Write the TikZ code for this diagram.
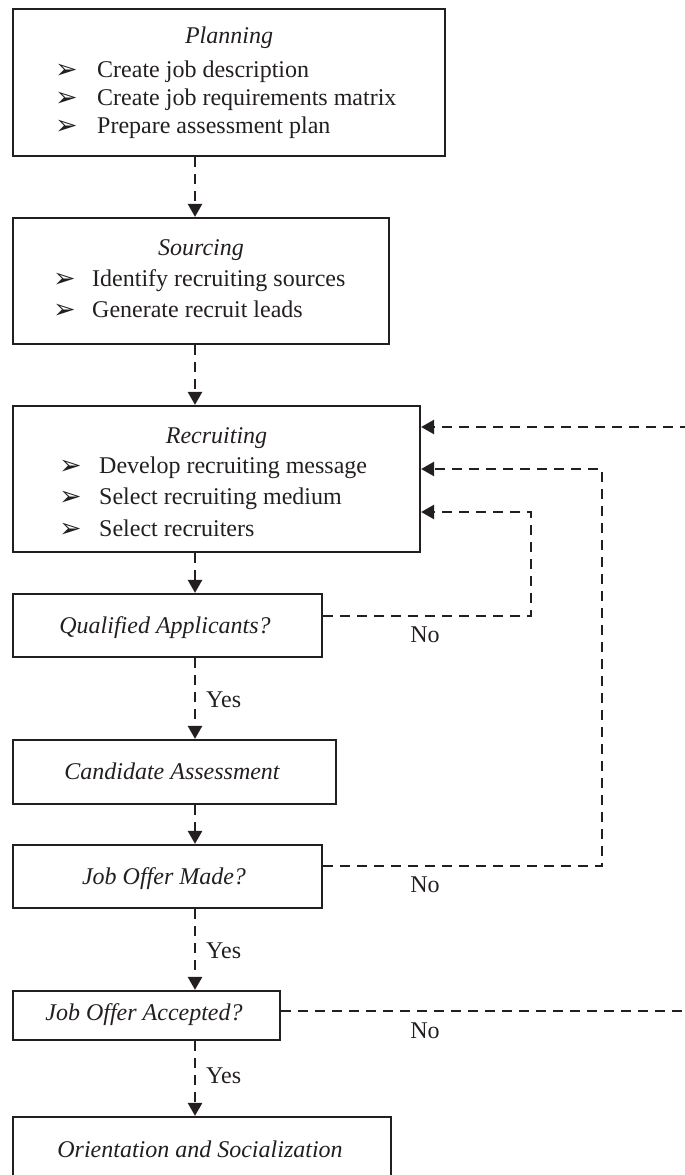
\documentclass[tikz,border=0pt]{standalone}
\usepackage{fontspec}
\setmainfont{Liberation Serif}
\newfontfamily\dingfont{DejaVu Sans}
\usetikzlibrary{arrows.meta}
\definecolor{ink}{RGB}{35,31,32}
\begin{document}
\begin{tikzpicture}[x=1pt,y=-1pt,
  font=\fontsize{24}{28}\selectfont,
  box/.style={draw=ink, line width=2.2pt, inner sep=0pt},
  ttl/.style={font=\fontsize{24}{28}\selectfont\itshape, anchor=base, inner sep=0pt, text=ink},
  itm/.style={anchor=base west, inner sep=0pt, text=ink},
  bul/.style={font=\dingfont\fontsize{27}{27}\selectfont, anchor=base west, inner sep=0pt, text=ink},
  lbl/.style={anchor=base, inner sep=0pt, text=ink},
  lblw/.style={anchor=base west, inner sep=0pt, text=ink},
  flow/.style={draw=ink, line width=2.6pt, dash pattern=on 10pt off 7pt,
    -{Triangle[length=13pt,width=14pt]}},
]
\useasboundingbox (0,0) rectangle (685,1175);

% boxes
\node[box, minimum width=432pt, minimum height=147pt] (plan) at (229,82.5) {};
\node[box, minimum width=376pt, minimum height=126pt] (src)  at (201,281) {};
\node[box, minimum width=407pt, minimum height=146pt] (rec)  at (216.5,479) {};
\node[box, minimum width=309pt, minimum height=63pt]  (qa)   at (167.5,625.5) {};
\node[box, minimum width=323pt, minimum height=64pt]  (ca)   at (174.5,772) {};
\node[box, minimum width=309pt, minimum height=63pt]  (jom)  at (167.5,876.5) {};
\node[box, minimum width=267pt, minimum height=49pt]  (joa)  at (146.5,1015.5) {};
\node[box, minimum width=378pt, minimum height=66pt]  (ori)  at (202,1150) {};

% planning
\node[ttl] (planT) at (229,43) {Planning};
\node[bul] (planB1) at (55,78) {➢};
\node[bul] (planB2) at (55,106) {➢};
\node[bul] (planB3) at (55,134) {➢};
\node[itm] (planI1) at (97,77) {Create job description};
\node[itm] (planI2) at (97,105) {Create job requirements matrix};
\node[itm] (planI3) at (97,133) {Prepare assessment plan};

% sourcing
\node[ttl] (srcT) at (201,255) {Sourcing};
\node[bul] (srcB1) at (53,287) {➢};
\node[bul] (srcB2) at (53,318) {➢};
\node[itm] (srcI1) at (92,286) {Identify recruiting sources};
\node[itm] (srcI2) at (92,317) {Generate recruit leads};

% recruiting
\node[ttl] (recT) at (216.5,443) {Recruiting};
\node[bul] (recB1) at (59,474) {➢};
\node[bul] (recB2) at (59,505) {➢};
\node[bul] (recB3) at (59,537) {➢};
\node[itm] (recI1) at (99,473) {Develop recruiting message};
\node[itm] (recI2) at (99,504) {Select recruiting medium};
\node[itm] (recI3) at (99,536) {Select recruiters};

% single-line steps
\node[ttl] (qaT)  at (165,633)  {Qualified Applicants?};
\node[ttl] (caT)  at (172,779)  {Candidate Assessment};
\node[ttl] (jomT) at (164,884)  {Job Offer Made?};
\node[ttl] (joaT) at (144,1020) {Job Offer Accepted?};
\node[ttl] (oriT) at (200,1157) {Orientation and Socialization};

% main flow
\coordinate (spine) at (195,0);
\draw[flow] (plan.south -| spine) -- (src.north -| spine);
\draw[flow] (src.south -| spine)  -- (rec.north -| spine);
\draw[flow] (rec.south -| spine)  -- (qa.north -| spine);
\draw[flow] (qa.south -| spine)   -- (ca.north -| spine);
\draw[flow] (ca.south -| spine)   -- (jom.north -| spine);
\draw[flow] (jom.south -| spine)  -- (joa.north -| spine);
\draw[flow] (joa.south -| spine)  -- (ori.north -| spine);

% loops back to recruiting
\coordinate (qaTurn)  at (531,616);
\coordinate (qaTop)   at (531,512);
\coordinate (jomTurn) at (602,866);
\coordinate (jomTop)  at (602,469);
\coordinate (joaOut)  at (690,1011);
\coordinate (topIn)   at (690,427);
\draw[flow] (qa.east |- qaTurn) -- (qaTurn) -- (qaTop) -- (rec.east |- qaTop);
\draw[flow] (jom.east |- jomTurn) -- (jomTurn) -- (jomTop) -- (rec.east |- jomTop);
\draw[flow, -] (joa.east |- joaOut) -- (joaOut);
\draw[flow] (topIn) -- (rec.east |- topIn);

% branch labels
\node[lbl] (no1) at (425,642) {No};
\node[lbl] (no2) at (425,892) {No};
\node[lbl] (no3) at (425,1038) {No};
\node[lblw] (yes1) at (206,707) {Yes};
\node[lblw] (yes2) at (206,958) {Yes};
\node[lblw] (yes3) at (206,1083) {Yes};
\end{tikzpicture}
\end{document}
